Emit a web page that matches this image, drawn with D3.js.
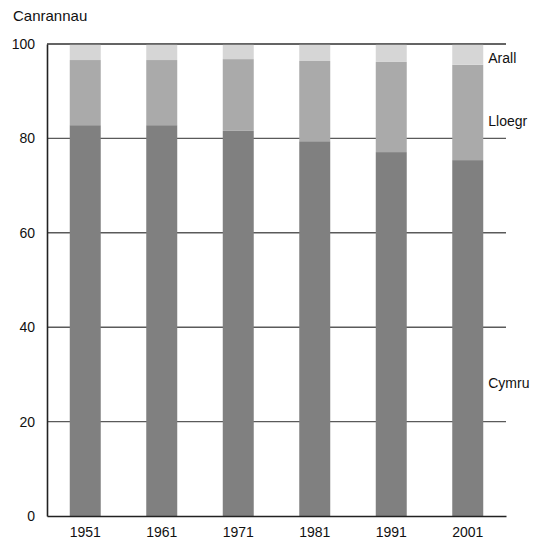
<!DOCTYPE html>
<html>
<head>
<meta charset="utf-8">
<script src="https://cdn.jsdelivr.net/npm/d3@7/dist/d3.min.js"></script>
<style>
  html, body { margin: 0; padding: 0; background: #fff; }
  text { font-family: "Liberation Sans Narrow", "Liberation Sans", Arial, sans-serif; fill: #111; }
</style>
</head>
<body>
<svg id="chart" width="542" height="541"></svg>
<script>
const years = ["1951", "1961", "1971", "1981", "1991", "2001"];
const cymru  = [82.8, 82.8, 81.6, 79.4, 77.1, 75.4];
const lloegr = [13.8, 13.8, 15.2, 17.0, 19.1, 20.2];
const arall  = [3.4, 3.4, 3.2, 3.6, 3.8, 4.4];
const seriesNames = ["Cymru", "Lloegr", "Arall"];
const seriesColors = ["#808080", "#aaaaaa", "#d6d6d6"];
const yTicks = [0, 20, 40, 60, 80, 100];
const yTitle = "Canrannau";

(function () {
const svg = d3.select("#chart");
const mLeft = 47, mRight = 506, mTop = 44, mBottom = 516;

const x = d3.scaleBand().domain(years).range([mLeft, mRight])
  .paddingInner(0.595).paddingOuter(0.2975);
const y = d3.scaleLinear().domain([0, 100]).range([mBottom, mTop]);

const table = years.map((yr, i) => ({ year: yr, Cymru: cymru[i], Lloegr: lloegr[i], Arall: arall[i] }));
const stacked = d3.stack().keys(seriesNames)(table);

// gridlines
svg.append("g").selectAll("line").data(yTicks.filter(t => t > 0)).join("line")
  .attr("x1", mLeft).attr("x2", mRight)
  .attr("y1", d => y(d)).attr("y2", d => y(d))
  .attr("stroke", "#5a5a5a").attr("stroke-width", 1.4);

// bars
svg.append("g").selectAll("g").data(stacked).join("g")
  .attr("fill", (d, i) => seriesColors[i])
  .selectAll("rect").data(d => d).join("rect")
  .attr("x", d => x(d.data.year))
  .attr("width", x.bandwidth())
  .attr("y", d => y(d[1]))
  .attr("height", d => y(d[0]) - y(d[1]));

// top gridline over bars
svg.append("line").attr("x1", mLeft).attr("x2", mRight)
  .attr("y1", y(100)).attr("y2", y(100))
  .attr("stroke", "#5a5a5a").attr("stroke-width", 1.4);

// y axis
const yAxis = d3.axisLeft(y).tickValues(yTicks).tickSize(0).tickPadding(12);
const gy = svg.append("g").attr("transform", `translate(${mLeft},0)`).call(yAxis);
gy.attr("font-family", null);
gy.select(".domain").attr("stroke", "#222").attr("stroke-width", 1.6);
gy.selectAll("text").attr("font-size", 14);

// x axis
const xAxis = d3.axisBottom(x).tickSize(0).tickPadding(11);
const gx = svg.append("g").attr("transform", `translate(0,${mBottom})`).call(xAxis);
gx.attr("font-family", null);
gx.select(".domain").attr("stroke", "#222").attr("stroke-width", 1.6);
gx.selectAll("text").attr("font-size", 14);

// title
svg.append("text").attr("x", 13).attr("y", 21).attr("font-size", 15).text(yTitle);

// series labels on the right
const lastIdx = years.length - 1;
const labelY = [388, 126, 63];
seriesNames.forEach((name, i) => {
  svg.append("text").attr("x", x(years[lastIdx]) + x.bandwidth() + 5)
    .attr("y", labelY[i]).attr("font-size", 14).text(name);
});
})();
</script>
</body>
</html>
